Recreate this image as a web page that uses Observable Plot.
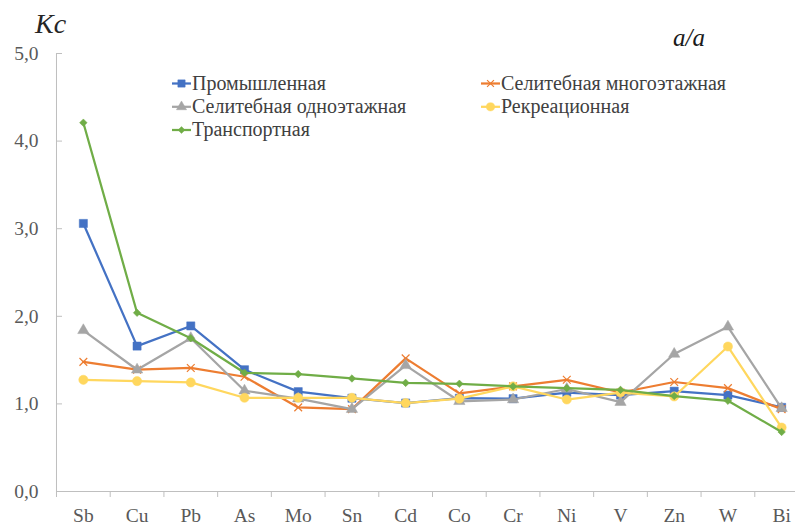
<!DOCTYPE html>
<html>
<head>
<meta charset="utf-8">
<script src="https://cdn.jsdelivr.net/npm/d3@7"></script>
<script src="https://cdn.jsdelivr.net/npm/@observablehq/plot@0.6"></script>
<style>
  html, body { margin: 0; padding: 0; background: #fff; }
</style>
</head>
<body>
<div id="wrap"></div>
<script>
// ---- data ----
const categories = ["Sb","Cu","Pb","As","Mo","Sn","Cd","Co","Cr","Ni","V","Zn","W","Bi"];
const seriesNames = ["Промышленная","Селитебная многоэтажная","Селитебная одноэтажная","Рекреационная","Транспортная"];
const promyshlennaya = [3.06,1.66,1.89,1.39,1.14,1.065,1.01,1.065,1.06,1.13,1.10,1.145,1.10,0.96];
const mnogoetazhnaya = [1.48,1.39,1.41,1.31,0.96,0.94,1.52,1.12,1.20,1.275,1.13,1.25,1.18,0.94];
const odnoetazhnaya  = [1.84,1.39,1.75,1.15,1.06,0.94,1.44,1.03,1.05,1.17,1.02,1.57,1.88,0.95];
const rekreatsionnaya = [1.275,1.26,1.245,1.07,1.07,1.07,1.01,1.06,1.20,1.05,1.13,1.085,1.655,0.73];
const transportnaya  = [4.21,2.04,1.75,1.355,1.34,1.29,1.24,1.23,1.20,1.18,1.16,1.09,1.035,0.68];
const yTicks = [0,1,2,3,4,5];

// ---- styles ----
const FONT = "Liberation Serif";
const colors = ["#4472C4","#ED7D31","#A5A5A5","#FFD75E","#70AD47"];
const symbols = ["square","times","triangle","circle","diamond2"];
const radii = [4.6,3.6,4.2,4.6,3.4];
const filled = [true,false,true,true,true];
const values = [promyshlennaya, mnogoetazhnaya, odnoetazhnaya, rekreatsionnaya, transportnaya];

const series = seriesNames.map((name, k) => ({
  name, color: colors[k], symbol: symbols[k], r: radii[k], filled: filled[k],
  rows: categories.map((c, i) => ({cat: c, v: values[k][i]}))
}));

const halfStep = (808 - 56) / categories.length / 2;
const fmt = d => d.toFixed(1).replace(".", ",");

const marks = [
  Plot.ruleY([0], {stroke: "#BFBFBF", strokeWidth: 1}),
  Plot.ruleX([categories[0]], {x: d => d, y1: 0, y2: 5, dx: -halfStep, stroke: "#BFBFBF"}),
  Plot.axisY({ticks: yTicks, tickSize: 6, dx: 6, tickFormat: () => "", stroke: "#BFBFBF", label: null}),
  Plot.axisY({ticks: yTicks, tickSize: 0, tickPadding: 18, tickFormat: fmt, fontSize: 19.5, fill: "#595959", label: null}),
  Plot.axisX({tickSize: 6, dx: -halfStep, tickFormat: () => "", stroke: "#BFBFBF", label: null}),
  Plot.axisX({tickSize: 0, tickPadding: 17, fontSize: 19.5, fill: "#595959", label: null})
];
for (const s of series) {
  marks.push(Plot.line(s.rows, {x: "cat", y: "v", stroke: s.color, strokeWidth: 2.25, strokeLinejoin: "round"}));
  marks.push(Plot.dot(s.rows, {
    x: "cat", y: "v", symbol: () => s.symbol, r: s.r,
    fill: s.filled ? s.color : "none", stroke: s.color, strokeWidth: s.filled ? 0.5 : 1.2
  }));
}

const chart = Plot.plot({
  width: 795,
  height: 526,
  marginTop: 53,
  marginBottom: 35,
  marginLeft: 56,
  marginRight: 0,
  style: {fontFamily: FONT, background: "#fff", overflow: "hidden"},
  x: {type: "point", domain: categories, range: [56, 808], padding: 0.5, round: false, label: null},
  y: {domain: [0, 5], label: null},
  symbol: {type: "identity"},
  marks
});

document.getElementById("wrap").appendChild(chart);

const svg = d3.select(chart);
const g = svg.append("g").attr("text-anchor", "start");
g.append("text").text("Kc").attr("x", 35).attr("y", 33)
  .attr("font-size", 28).attr("font-style", "italic").attr("fill", "#262626");
g.append("text").text("a/a").attr("x", 673).attr("y", 46)
  .attr("font-size", 25).attr("font-style", "italic").attr("fill", "#1a1a1a");

const legendPos = [[172, 83.5], [481, 83.5], [172, 106.8], [481, 106.8], [172, 130]];
const symMap = {square: d3.symbolSquare, times: d3.symbolTimes, triangle: d3.symbolTriangle, circle: d3.symbolCircle, diamond2: d3.symbolDiamond2};
series.forEach((s, k) => {
  const [lx, ly] = legendPos[k];
  const it = g.append("g").attr("transform", `translate(${lx},${ly})`);
  it.append("line").attr("x1", 0).attr("x2", 19).attr("y1", 0).attr("y2", 0)
    .attr("stroke", s.color).attr("stroke-width", 2.25);
  it.append("path").attr("d", d3.symbol(symMap[s.symbol], Math.PI * s.r * s.r * 0.8)())
    .attr("transform", "translate(9.5,0)")
    .attr("fill", s.filled ? s.color : "none").attr("stroke", s.color)
    .attr("stroke-width", s.filled ? 0.5 : 1.2);
  it.append("text").text(s.name).attr("x", 20).attr("y", 6)
    .attr("font-size", 20).attr("fill", "#404040");
});

// put the serif family directly on every text element
svg.selectAll("text").attr("font-family", FONT);
</script>
</body>
</html>
